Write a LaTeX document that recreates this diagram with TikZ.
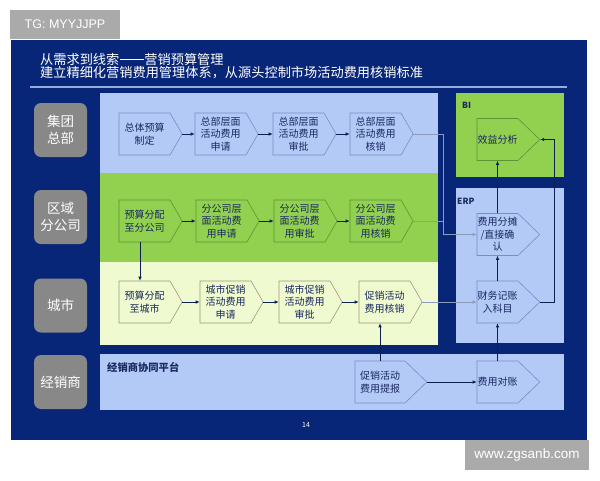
\documentclass[tikz,border=0pt]{standalone}
\usepackage{fontspec}
\setmainfont{Noto Sans CJK SC}
\newfontfamily\latinsans{Liberation Sans}
\usetikzlibrary{shapes.symbols,arrows.meta}
\definecolor{navy}{RGB}{8,38,120}
\definecolor{panelblue}{RGB}{180,202,246}
\definecolor{panelgreen}{RGB}{146,208,80}
\definecolor{panelyellow}{RGB}{240,250,208}
\definecolor{lanegray}{RGB}{136,136,136}
\definecolor{taggray}{RGB}{170,170,170}
\definecolor{boxtext}{RGB}{25,40,95}
\definecolor{blueedge}{RGB}{120,140,200}
\definecolor{greenedge}{RGB}{90,150,50}
\definecolor{yellowedge}{RGB}{150,155,120}
\definecolor{darkline}{RGB}{15,30,80}
\definecolor{grayline}{RGB}{140,155,185}
\definecolor{ruleblue}{RGB}{150,172,225}
\newcommand{\longdashmark}{\kern0.5pt\rule[0.36em]{24pt}{0.06em}\kern0.5pt}
\begin{document}
\begin{tikzpicture}[x=1pt,y=-1pt,
  stepbox/.style={shape=signal, signal to=east, signal pointer angle=120,
    minimum height=42pt, text width=51pt, inner xsep=0pt, inner ysep=0pt,
    align=center, font=\fontsize{10}{12.5}\selectfont, text=boxtext, line width=0.6pt},
  sysbox/.style={stepbox, signal pointer angle=88, text width=41pt},
  inblue/.style={fill=panelblue, draw=blueedge},
  ingreen/.style={fill=panelgreen, draw=greenedge},
  inyellow/.style={fill=panelyellow, draw=yellowedge},
  lane/.style={fill=lanegray, rounded corners=7pt, minimum width=53pt, minimum height=54pt,
    inner sep=0pt, align=center, text=white, font=\fontsize{13.5}{16.5}\selectfont},
  arr/.style={draw=darkline, line width=0.7pt, -{Latex[length=4pt,width=3.5pt]}},
  garr/.style={draw=grayline, line width=0.7pt, -{Latex[length=4pt,width=3.5pt]}},
  gline/.style={draw=grayline, line width=0.7pt},
]
\useasboundingbox (0,0) rectangle (600,480);
\fill[white] (0,0) rectangle (600,480);
\fill[navy] (11,40) rectangle (587,440);
\node[fill=taggray, minimum width=110pt, minimum height=29pt, inner sep=0pt,
  text=white, font=\latinsans\fontsize{12.5}{14}\selectfont] (tg) at (65,24.5) {TG: MYYJJPP};
\node[fill=taggray, minimum width=124pt, minimum height=30pt, inner sep=0pt,
  text=white, font=\latinsans\fontsize{13.5}{15}\selectfont] (www) at (527,455) {www.zgsanb.com};

% title
\node[anchor=west, inner sep=0pt, align=left, text=white,
  font=\fontsize{13.2}{13.5}\selectfont] (title) at (40,66)
  {从需求到线索\longdashmark 营销预算管理\\建立精细化营销费用管理体系，从源头控制市场活动费用核销标准};
\draw[ruleblue, line width=1.2pt] (30,87) -- (567,87);

% panels
\fill[panelblue] (100,93) rectangle (438,173);
\fill[panelgreen] (100,173) rectangle (438,262);
\fill[panelyellow] (100,262) rectangle (438,345);
\fill[panelblue] (100,354) rectangle (564,410);
\fill[panelgreen] (456,93) rectangle (564,177);
\fill[panelblue] (456,188) rectangle (564,343);

\node[anchor=west, inner sep=0pt, text=boxtext, font=\bfseries\fontsize{8.5}{10}\selectfont] (bil) at (462,105) {BI};
\node[anchor=west, inner sep=0pt, text=boxtext, font=\bfseries\fontsize{8.5}{10}\selectfont] (erpl) at (457,201) {ERP};
\node[anchor=west, inner sep=0pt, text=boxtext, font=\bfseries\fontsize{10.3}{12}\selectfont] (dl) at (107,367) {经销商协同平台};
\node[text=white, inner sep=0pt, font=\fontsize{7}{8}\selectfont] (pg) at (306,425) {14};

% lanes
\node[lane] (l1) at (60.5,130) {集团\\总部};
\node[lane] (l2) at (60.5,217) {区域\\分公司};
\node[lane] (l3) at (60.5,305.5) {城市};
\node[lane] (l4) at (60.5,382) {经销商};

% HQ row
\node[stepbox, inblue] (h1) at (144.5,134) {总体预算\\制定};
\node[stepbox, inblue] (h2) at (220.5,134) {总部层面\\活动费用\\申请};
\node[stepbox, inblue] (h3) at (298.5,134) {总部层面\\活动费用\\审批};
\node[stepbox, inblue] (h4) at (375.5,134) {总部层面\\活动费用\\核销};
% branch row
\node[stepbox, ingreen] (g1) at (144.5,221) {预算分配\\至分公司};
\node[stepbox, ingreen] (g2) at (221.5,221) {分公司层\\面活动费\\用申请};
\node[stepbox, ingreen] (g3) at (299.5,221) {分公司层\\面活动费\\用审批};
\node[stepbox, ingreen] (g4) at (375.5,221) {分公司层\\面活动费\\用核销};
% city row
\node[stepbox, inyellow] (y1) at (144.5,302) {预算分配\\至城市};
\node[stepbox, inyellow] (y2) at (225.5,302) {城市促销\\活动费用\\申请};
\node[stepbox, inyellow] (y3) at (304.5,302) {城市促销\\活动费用\\审批};
\node[stepbox, inyellow] (y4) at (384.5,302) {促销活动\\费用核销};
% dealer
\node[stepbox, inblue, signal pointer angle=88, text width=50pt] (tb) at (380,382) {促销活动\\费用提报};
% systems
\node[sysbox, ingreen] (xy) at (497.5,139.5) {效益分析};
\node[sysbox, inblue] (fs) at (497.5,234.5) {费用分摊\\/直接确\\认};
\node[sysbox, inblue] (fa) at (497.5,302) {财务记账\\入科目};
\node[sysbox, inblue] (fd) at (497.5,382) {费用对账};

% connectors
\draw[arr] (h1.east) -- (h2.west);
\draw[arr] (h2.east) -- (h3.west);
\draw[arr] (h3.east) -- (h4.west);
\draw[arr] (g1.east) -- (g2.west);
\draw[arr] (g2.east) -- (g3.west);
\draw[arr] (g3.east) -- (g4.west);
\draw[arr] (y1.east) -- (y2.west);
\draw[arr] (y2.east) -- (y3.west);
\draw[arr] (y3.east) -- (y4.west);
\draw[arr] ([xshift=-4.5pt]g1.south) -- ([xshift=-4.5pt]y1.north);

\coordinate (jx) at (443,234.5);
\draw[garr] (h4.east) -| (jx) -- (fs.west);
\draw[gline] (g4.east) -- (g4.east -| jx);
\draw[garr] (y4.east) -- (fa.west);

\draw[arr] (tb.north) -- (tb.north |- y4.south);
\draw[arr] (tb.east) -- (fd.west);
\draw[arr] (fd.north) -- (fa.south);
\draw[arr] (fa.north) -- (fs.south);
\draw[arr] (fs.north) -- (xy.south);
\draw[arr] (fa.east) -- ++(14,0) |- (xy.east);
\end{tikzpicture}
\end{document}
